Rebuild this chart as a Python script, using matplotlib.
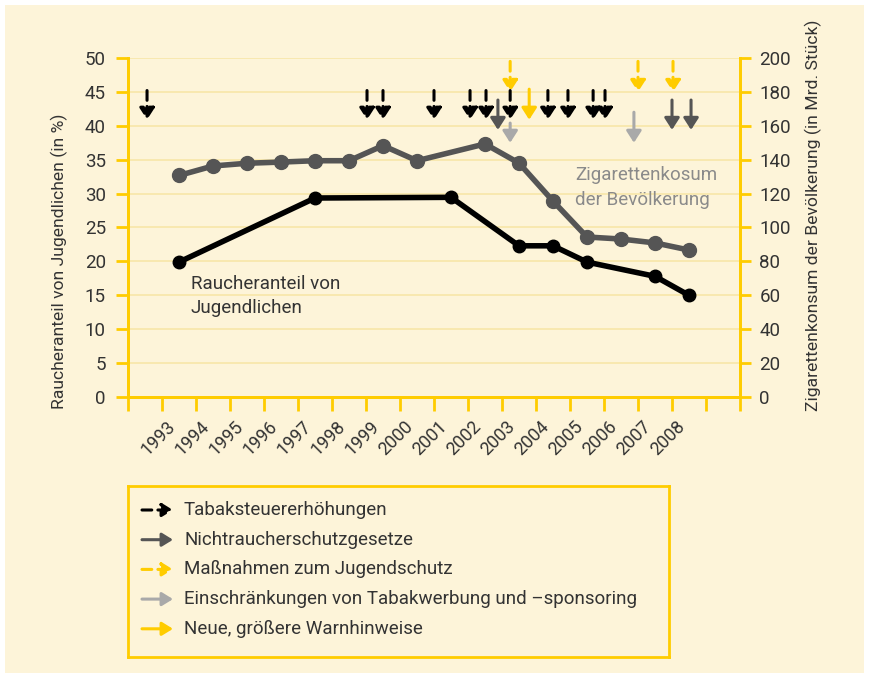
import numpy as np
import matplotlib
matplotlib.use("Agg")
import matplotlib.pyplot as plt
from matplotlib.patches import Rectangle
from matplotlib.transforms import ScaledTranslation

plt.rcParams['font.family'] = ['Roboto', 'DejaVu Sans']

# --- data -------------------------------------------------------------
years = list(range(1993, 2009))

youth_years = [1993, 1997, 2001, 2003, 2004, 2005, 2007, 2008]
youth_share = [19.9, 29.35, 29.45, 22.3, 22.3, 19.9, 17.8, 15.0]

cig_years = [1993, 1994, 1995, 1996, 1997, 1998, 1999, 2000,
             2002, 2003, 2004, 2005, 2006, 2007, 2008]
cig_consumption = [130.7, 136.3, 137.9, 138.6, 139.4, 139.4, 148.3, 139.4,
                   149.3, 138.0, 115.6, 94.4, 93.2, 90.9, 86.7]

# measures (x = date, arrows drawn in units of the left axis)
tax_x = [1992.06, 1998.53, 1999.0, 2000.5, 2001.56, 2002.03, 2002.74,
         2003.85, 2004.44, 2005.18, 2005.53]
smokefree_x = [2002.38, 2007.5, 2008.06]
youthprot_x = [2002.74, 2006.5, 2007.53]
advert_x = [2002.74, 2006.38]
advert_top = [40.4, 42.0]
warning_x = [2003.3]

legend_labels = ["Tabaksteuererhöhungen",
                 "Nichtraucherschutzgesetze",
                 "Maßnahmen zum Jugendschutz",
                 "Einschränkungen von Tabakwerbung und \u2013sponsoring",
                 "Neue, größere Warnhinweise"]

# --- styling ------------------------------------------------------------
CREAM = "#fdf4d9"
GOLD = "#ffcc00"
GRID = "#f8e6a8"
TXT = "#333333"
DARK = "#555555"
LIGHT = "#a9a9a9"
DASH = (0, (3.2, 2.0))

W, H = 869, 676
fig = plt.figure(figsize=(W / 100, H / 100), dpi=100, facecolor="white")
fig.patches.append(Rectangle((5 / W, 3 / H), 859 / W, 668 / H,
                             transform=fig.transFigure, facecolor=CREAM,
                             edgecolor="none", zorder=-10))

ax = fig.add_axes([128 / W, 1 - 397 / H, 612 / W, 339 / H])
ax2 = ax.twinx()

ax.set_xlim(1991.5, 2009.5)
ax.set_ylim(0, 50)
ax2.set_ylim(0, 200)

ax.set_yticks(np.arange(0, 51, 5))
ax2.set_yticks(np.arange(0, 201, 20))
ax.set_xticks(np.arange(1991.5, 2009.6, 1.0))
ax.set_xticklabels([])
ax.set_xticks(years, minor=True)
ax.set_xticklabels([str(y) for y in years], minor=True, rotation=45,
                   ha="right", fontsize=13, color=TXT)
for lab in ax.get_xticklabels(minor=True):
    lab.set_transform(lab.get_transform() + ScaledTranslation(0.06, 0, fig.dpi_scale_trans))

ax.tick_params(axis="x", which="major", length=10, width=2, color=GOLD)
ax.tick_params(axis="x", which="minor", length=0, pad=15)
ax.tick_params(axis="y", length=9, width=2, color=GOLD, labelsize=13.5,
               labelcolor=TXT, pad=7)
ax2.tick_params(axis="y", length=8, width=2, color=GOLD, labelsize=13.5,
                labelcolor=TXT, pad=6)

for a in (ax, ax2):
    a.spines["top"].set_visible(False)
    for s in ("left", "right", "bottom"):
        a.spines[s].set_color(GOLD)
        a.spines[s].set_linewidth(2)

ax.set_ylabel("Raucheranteil von Jugendlichen (in %)", fontsize=12.6, color=TXT)
ax.yaxis.set_label_coords(-0.098, 0.40)
ax2.set_ylabel("Zigarettenkonsum der Bevölkerung (in Mrd. Stück)", fontsize=12.6,
               color=TXT, rotation=90)
ax2.yaxis.set_label_coords(1.106, 0.535)

# --- lines --------------------------------------------------------------
ax2.plot(cig_years, cig_consumption, color=DARK, lw=4, marker="o", ms=10,
         solid_joinstyle="round", zorder=3)
ax.plot(youth_years, youth_share, color="black", lw=4, marker="o", ms=9,
        zorder=3)
ax.set_zorder(ax2.get_zorder() + 1)
ax.patch.set_visible(False)
ax2.patch.set_facecolor(CREAM)
ax2.grid(axis="y", color=GRID, lw=1.2)
ax2.set_axisbelow(True)

ax.text(1993.35, 14.9, "Raucheranteil von\nJugendlichen", fontsize=13.5,
        color=TXT, va="center", ha="left", linespacing=1.45)
ax.text(2004.65, 30.9, "Zigarettenkosum\nder Bevölkerung", fontsize=13.5,
        color="#8a8a8a", va="center", ha="left", linespacing=1.45)


# --- arrows -------------------------------------------------------------
def arrow(a, x, top, tip, color, dashed):
    a.annotate("", xy=(x, tip), xytext=(x, top),
               arrowprops=dict(arrowstyle="-|>,head_length=0.7,head_width=0.45",
                               mutation_scale=10, color=color, lw=2.2,
                               linestyle=DASH if dashed else "-",
                               shrinkA=0, shrinkB=0))


for x in tax_x:
    arrow(ax, x, 45.2, 40.9, "black", True)
for x in smokefree_x:
    arrow(ax, x, 43.8, 39.4, DARK, False)
for x in youthprot_x:
    arrow(ax, x, 49.5, 45.0, GOLD, True)
for x, t in zip(advert_x, advert_top):
    arrow(ax, x, t, 37.5, LIGHT, False)
for x in warning_x:
    arrow(ax, x, 45.4, 40.9, GOLD, False)

# --- legend box ---------------------------------------------------------
lg = fig.add_axes([128 / W, 1 - 657 / H, 541 / W, 171 / H])
lg.set_facecolor(CREAM)
lg.set_xlim(0, 541)
lg.set_ylim(171, 0)
lg.set_xticks([])
lg.set_yticks([])
for s in lg.spines.values():
    s.set_color(GOLD)
    s.set_linewidth(2)

styles = [("black", True), (DARK, False), (GOLD, True), (LIGHT, False), (GOLD, False)]
for i, (lab, (c, d)) in enumerate(zip(legend_labels, styles)):
    yy = 24 + i * 29.7
    lg.annotate("", xy=(45, yy), xytext=(14, yy),
                arrowprops=dict(arrowstyle="-|>,head_length=0.65,head_width=0.4",
                                mutation_scale=10, color=c, lw=2.2,
                                linestyle=DASH if d else "-",
                                shrinkA=0, shrinkB=0))
    lg.text(56, yy, lab, fontsize=13.5, color=TXT, va="center", ha="left")

fig.savefig("out.png", dpi=100, facecolor="white")
